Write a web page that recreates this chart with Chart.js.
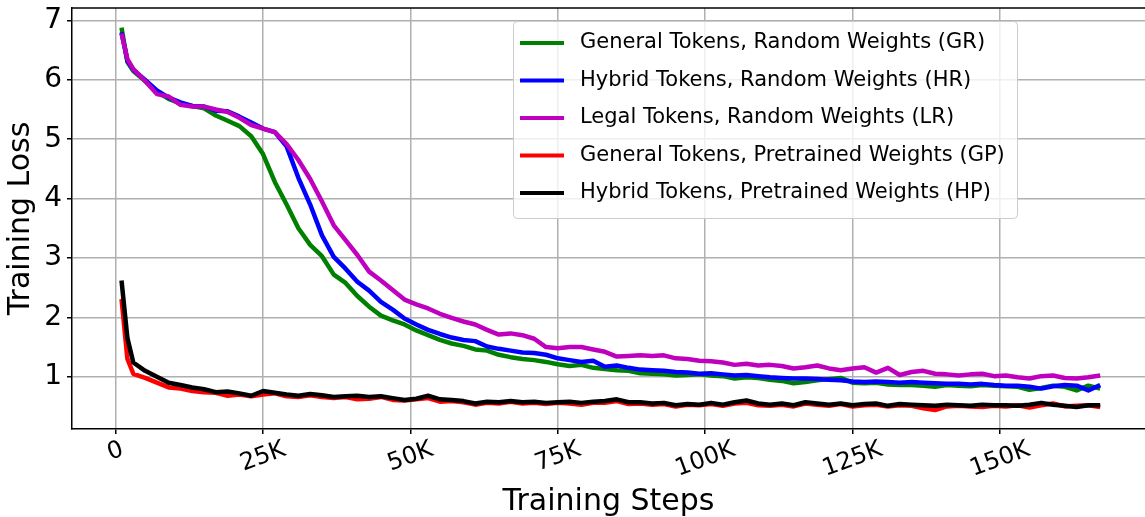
<!DOCTYPE html>
<html lang="en">
<head>
<meta charset="UTF-8">
<title>Training Loss</title>
<script src="https://cdn.jsdelivr.net/npm/chart.js"></script>
<style>
  html, body { margin: 0; padding: 0; background: #fff; overflow: hidden; }
  canvas { display: block; }
</style>
</head>
<body>
<canvas id="lossChart" width="1145" height="517"></canvas>
<script>
// training steps, in thousands
const steps = [
  1, 2, 3, 5, 7, 9, 11, 13, 15, 17,
  19, 21, 23, 25, 27, 29, 31, 33, 35, 37,
  39, 41, 43, 45, 47, 49, 51, 53, 55, 57,
  59, 61, 63, 65, 67, 69, 71, 73, 75, 77,
  79, 81, 83, 85, 87, 89, 91, 93, 95, 97,
  99, 101, 103, 105, 107, 109, 111, 113, 115, 117,
  119, 121, 123, 125, 127, 129, 131, 133, 135, 137,
  139, 141, 143, 145, 147, 149, 151, 153, 155, 157,
  159, 161, 163, 165, 167
];

const lossGR = [
  6.88, 6.30, 6.15, 5.98, 5.80, 5.68, 5.60, 5.56, 5.52, 5.40,
  5.31, 5.22, 5.05, 4.75, 4.28, 3.90, 3.50, 3.22, 3.03, 2.72,
  2.58, 2.36, 2.18, 2.03, 1.95, 1.88, 1.78, 1.70, 1.62, 1.56,
  1.52, 1.46, 1.44, 1.37, 1.33, 1.30, 1.28, 1.25, 1.21, 1.18,
  1.20, 1.15, 1.13, 1.11, 1.10, 1.06, 1.05, 1.04, 1.02, 1.03,
  1.04, 1.02, 1.01, 0.97, 0.99, 0.98, 0.95, 0.93, 0.89, 0.91,
  0.94, 0.96, 0.98, 0.90, 0.89, 0.90, 0.87, 0.86, 0.86, 0.85,
  0.83, 0.86, 0.85, 0.84, 0.86, 0.85, 0.84, 0.83, 0.78, 0.81,
  0.85, 0.83, 0.77, 0.85, 0.80
];

const lossHR = [
  6.80, 6.32, 6.17, 6.00, 5.82, 5.70, 5.62, 5.56, 5.55, 5.48,
  5.47, 5.38, 5.28, 5.18, 5.12, 4.88, 4.35, 3.90, 3.38, 3.02,
  2.82, 2.60, 2.45, 2.26, 2.13, 1.98, 1.88, 1.79, 1.72, 1.66,
  1.62, 1.60, 1.51, 1.47, 1.44, 1.41, 1.40, 1.37, 1.31, 1.28,
  1.25, 1.27, 1.17, 1.19, 1.15, 1.12, 1.11, 1.10, 1.08, 1.07,
  1.05, 1.06, 1.04, 1.02, 1.03, 1.01, 0.99, 0.98, 0.97, 0.97,
  0.96, 0.95, 0.94, 0.92, 0.91, 0.92, 0.91, 0.90, 0.91, 0.90,
  0.89, 0.88, 0.88, 0.87, 0.88, 0.86, 0.85, 0.85, 0.83, 0.80,
  0.84, 0.86, 0.85, 0.77, 0.86
];

const lossLR = [
  6.78, 6.35, 6.18, 5.98, 5.76, 5.72, 5.58, 5.55, 5.55, 5.50,
  5.46, 5.36, 5.24, 5.18, 5.12, 4.92, 4.65, 4.33, 3.95, 3.55,
  3.30, 3.05, 2.77, 2.62, 2.46, 2.30, 2.22, 2.15, 2.06, 1.99,
  1.93, 1.88, 1.79, 1.71, 1.73, 1.70, 1.64, 1.50, 1.48, 1.50,
  1.50, 1.46, 1.42, 1.34, 1.35, 1.36, 1.35, 1.36, 1.31, 1.30,
  1.27, 1.26, 1.24, 1.20, 1.22, 1.19, 1.20, 1.18, 1.14, 1.16,
  1.19, 1.14, 1.11, 1.14, 1.16, 1.07, 1.15, 1.03, 1.08, 1.10,
  1.05, 1.04, 1.02, 1.04, 1.05, 1.01, 1.02, 0.99, 0.97, 1.01,
  1.02, 0.98, 0.97, 0.99, 1.02
];

const lossGP = [
  2.31, 1.30, 1.05, 0.98, 0.90, 0.82, 0.80, 0.76, 0.74, 0.73,
  0.68, 0.70, 0.67, 0.70, 0.72, 0.67, 0.66, 0.69, 0.66, 0.64,
  0.66, 0.62, 0.63, 0.66, 0.61, 0.60, 0.62, 0.64, 0.58, 0.59,
  0.57, 0.53, 0.56, 0.55, 0.58, 0.55, 0.56, 0.54, 0.56, 0.55,
  0.53, 0.56, 0.56, 0.59, 0.54, 0.55, 0.53, 0.54, 0.50, 0.53,
  0.52, 0.54, 0.51, 0.55, 0.56, 0.52, 0.51, 0.53, 0.50, 0.55,
  0.53, 0.51, 0.54, 0.50, 0.52, 0.53, 0.50, 0.52, 0.51, 0.47,
  0.44, 0.50, 0.51, 0.50, 0.49, 0.51, 0.50, 0.52, 0.48, 0.52,
  0.55, 0.50, 0.51, 0.52, 0.49
];

const lossHP = [
  2.62, 1.65, 1.24, 1.10, 1.00, 0.90, 0.86, 0.82, 0.79, 0.74,
  0.75, 0.72, 0.68, 0.76, 0.73, 0.70, 0.68, 0.71, 0.69, 0.66,
  0.67, 0.68, 0.66, 0.67, 0.64, 0.61, 0.63, 0.68, 0.62, 0.61,
  0.59, 0.55, 0.58, 0.57, 0.59, 0.57, 0.58, 0.56, 0.57, 0.58,
  0.56, 0.58, 0.59, 0.62, 0.57, 0.57, 0.55, 0.56, 0.52, 0.54,
  0.53, 0.56, 0.53, 0.57, 0.60, 0.55, 0.53, 0.55, 0.52, 0.57,
  0.55, 0.53, 0.55, 0.52, 0.54, 0.55, 0.51, 0.54, 0.53, 0.52,
  0.51, 0.53, 0.52, 0.51, 0.53, 0.52, 0.52, 0.51, 0.53, 0.56,
  0.53, 0.51, 0.49, 0.52, 0.52
];

const seriesLabels = [
  'General Tokens, Random Weights (GR)',
  'Hybrid Tokens, Random Weights (HR)',
  'Legal Tokens, Random Weights (LR)',
  'General Tokens, Pretrained Weights (GP)',
  'Hybrid Tokens, Pretrained Weights (HP)'
];
const seriesValues = [lossGR, lossHR, lossLR, lossGP, lossHP];
const seriesColors = ['#008000', '#0000ff', '#bf00bf', '#ff0000', '#000000'];

const xTicks = [0, 25, 50, 75, 100, 125, 150];
const yTicks = [1, 2, 3, 4, 5, 6, 7];

const FONT = '"DejaVu Sans", sans-serif';

function stepLabel(v) {
  return v === 0 ? '0' : v + 'K';
}

// matplotlib-style x labels: rotated 20deg, centred under the tick
const rotatedXLabels = {
  id: 'rotatedXLabels',
  afterDraw(chart) {
    const ctx = chart.ctx;
    const xs = chart.scales.x;
    const ang = 20 * Math.PI / 180;
    const size = 24;
    ctx.save();
    ctx.font = size + 'px ' + FONT;
    ctx.fillStyle = '#000';
    ctx.textAlign = 'center';
    ctx.textBaseline = 'middle';
    xs.ticks.forEach(t => {
      const label = stepLabel(t.value);
      const w = ctx.measureText(label).width;
      const px = xs.getPixelForValue(t.value);
      const py = xs.top + 20 + w * Math.sin(ang) / 2;
      ctx.save();
      ctx.translate(px, py);
      ctx.rotate(-ang);
      ctx.fillText(label, 0, 0);
      ctx.restore();
    });
    ctx.restore();
  }
};

// top spine + boxed legend in the upper right
const frameAndLegend = {
  id: 'frameAndLegend',
  afterDraw(chart) {
    const ctx = chart.ctx;
    const area = chart.chartArea;
    ctx.save();
    ctx.strokeStyle = '#000';
    ctx.lineWidth = 1.5;
    ctx.beginPath();
    ctx.moveTo(area.left, area.top);
    ctx.lineTo(area.right, area.top);
    ctx.stroke();

    const bx = 513, by = 21, bw = 504, bh = 197;
    ctx.fillStyle = 'rgba(255,255,255,0.8)';
    ctx.strokeStyle = '#cccccc';
    ctx.lineWidth = 1;
    ctx.beginPath();
    ctx.roundRect(bx + 0.5, by + 0.5, bw, bh, 4);
    ctx.fill();
    ctx.stroke();

    ctx.font = '21px ' + FONT;
    ctx.textAlign = 'left';
    ctx.textBaseline = 'middle';
    chart.data.datasets.forEach((ds, i) => {
      const ry = by + 22 + i * 37.5;
      ctx.strokeStyle = ds.borderColor;
      ctx.lineWidth = 4;
      ctx.beginPath();
      ctx.moveTo(520, ry);
      ctx.lineTo(564, ry);
      ctx.stroke();
      ctx.fillStyle = '#000';
      ctx.fillText(ds.label, 580, ry);
    });
    ctx.restore();
  }
};

const datasets = seriesLabels.map((label, i) => ({
  label: label,
  data: steps.map((s, j) => ({ x: s, y: seriesValues[i][j] })),
  borderColor: seriesColors[i],
  backgroundColor: seriesColors[i],
  borderWidth: 4.5,
  pointRadius: 0,
  tension: 0,
  fill: false,
  borderJoinStyle: 'round',
  order: seriesLabels.length - i
}));

new Chart(document.getElementById('lossChart'), {
  type: 'line',
  data: { datasets: datasets },
  options: {
    responsive: false,
    devicePixelRatio: 1,
    animation: false,
    layout: { padding: { top: 8, right: 0, bottom: 0, left: 0 } },
    plugins: {
      legend: { display: false },
      tooltip: { enabled: false }
    },
    scales: {
      x: {
        type: 'linear',
        min: -7.4,
        max: 174.6,
        afterBuildTicks: s => { s.ticks = xTicks.map(v => ({ value: v })); },
        afterFit: s => {
          s.height = 88;
          s.paddingLeft = 0;
          s.paddingRight = 0;
        },
        ticks: { display: false },
        grid: { color: '#b0b0b0', lineWidth: 1.5, tickColor: '#000', tickLength: 5, tickWidth: 1.5 },
        border: { color: '#000', width: 1.5 },
        title: {
          display: true,
          text: 'Training Steps',
          color: '#000',
          font: { family: FONT, size: 30, lineHeight: 1.0 },
          padding: { top: 0, bottom: 0 }
        }
      },
      y: {
        min: 0.12,
        max: 7.21,
        afterBuildTicks: s => { s.ticks = yTicks.map(v => ({ value: v })); },
        afterFit: s => {
          s.width = 72;
          s.paddingTop = 0;
          s.paddingBottom = 0;
        },
        ticks: { color: '#000', font: { family: FONT, size: 28 }, padding: 5 },
        grid: { color: '#b0b0b0', lineWidth: 1.5, tickColor: '#000', tickLength: 5, tickWidth: 1.5 },
        border: { color: '#000', width: 1.5 },
        title: {
          display: true,
          text: 'Training Loss',
          color: '#000',
          font: { family: FONT, size: 30, lineHeight: 1.0 },
          padding: { top: 6, bottom: 0 }
        }
      }
    }
  },
  plugins: [rotatedXLabels, frameAndLegend]
});
</script>
</body>
</html>
